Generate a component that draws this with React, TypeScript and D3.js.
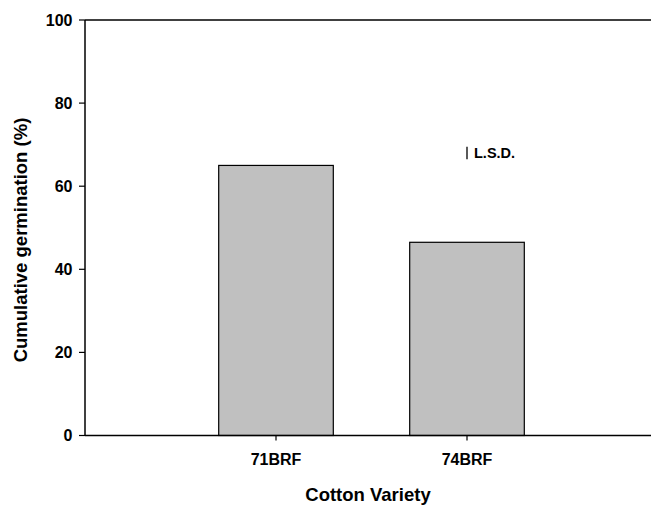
import React from "react";
import * as d3 from "d3";

const varieties = ["71BRF", "74BRF"];
const germination = [65.0, 46.5];
const yTicks = [0, 20, 40, 60, 80, 100];
const lsdValue = 3.0;
const lsdCenter = 68.0;

const W = 651;
const H = 507;
const left = 85;
const top = 20;
const bottom = 435.5;
const right = 658;

export default function App() {
  const x = d3.scaleLinear().domain([0, 3]).range([left, right]);
  const y = d3.scaleLinear().domain([0, 100]).range([bottom, top]);
  const barW = x(0.6) - x(0);
  const font = "'Liberation Sans', Arial, sans-serif";

  return (
    <svg
      width={W}
      height={H}
      style={{ position: "absolute", left: 0, top: 0, background: "#fff" }}
      fontFamily={font}
      fontWeight="bold"
    >
      {/* bars */}
      {germination.map((v, i) => (
        <rect
          key={varieties[i]}
          x={x(i + 1) - barW / 2}
          y={y(v)}
          width={barW}
          height={y(0) - y(v)}
          fill="#c0c0c0"
          stroke="#000"
          strokeWidth={1.2}
        />
      ))}

      {/* frame */}
      <line x1={left} x2={W} y1={y(100)} y2={y(100)} stroke="#000" strokeWidth={1.5} />
      <line x1={left} x2={W} y1={y(0)} y2={y(0)} stroke="#000" strokeWidth={1.5} />
      <line x1={left} x2={left} y1={y(100)} y2={y(0)} stroke="#000" strokeWidth={1.5} />

      {/* y ticks */}
      {yTicks.map((t) => (
        <g key={t}>
          <line x1={left - 6} x2={left} y1={y(t)} y2={y(t)} stroke="#000" strokeWidth={1.2} />
          <text x={left - 12.5} y={y(t)} dy="0.36em" textAnchor="end" fontSize={16}>
            {t}
          </text>
        </g>
      ))}

      {/* x ticks */}
      {varieties.map((v, i) => (
        <g key={v}>
          <line x1={x(i + 1)} x2={x(i + 1)} y1={y(0)} y2={y(0) + 5} stroke="#000" strokeWidth={1.2} />
          <text x={x(i + 1)} y={465} textAnchor="middle" fontSize={16}>
            {v}
          </text>
        </g>
      ))}

      {/* LSD bar */}
      <line
        x1={x(2)}
        x2={x(2)}
        y1={y(lsdCenter - lsdValue / 2)}
        y2={y(lsdCenter + lsdValue / 2)}
        stroke="#000"
        strokeWidth={1.3}
      />
      <text x={x(2) + 7} y={158.3} fontSize={14.5}>
        L.S.D.
      </text>

      {/* axis titles */}
      <text x={368} y={501} textAnchor="middle" fontSize={18.5}>
        Cotton Variety
      </text>
      <text
        transform={`translate(27, 240) rotate(-90)`}
        textAnchor="middle"
        fontSize={18.5}
      >
        Cumulative germination (%)
      </text>
    </svg>
  );
}
